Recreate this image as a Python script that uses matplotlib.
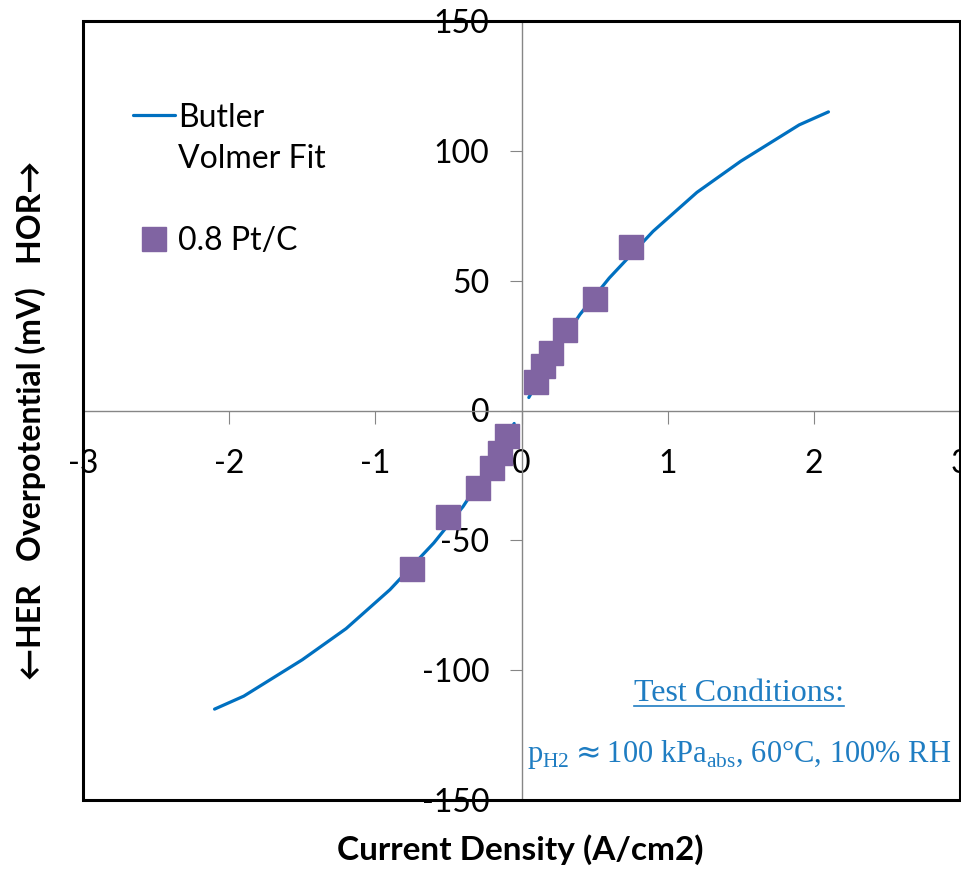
import matplotlib
matplotlib.use('Agg')
import matplotlib.pyplot as plt
from matplotlib.lines import Line2D
from matplotlib.patches import Rectangle
from matplotlib.legend_handler import HandlerLine2D

# Butler-Volmer fit (two branches, HER and HOR)
fit_x_neg = [-2.1, -2.0, -1.9, -1.8, -1.7, -1.6, -1.5, -1.4, -1.3, -1.2, -1.1, -1.0,
             -0.9, -0.8, -0.7, -0.6, -0.5, -0.4, -0.3, -0.2, -0.1, -0.05]
fit_y_neg = [-115, -112.5, -110, -106.5, -103, -99.5, -96, -92, -88, -84, -79, -74,
             -69, -63, -57, -51, -44, -37, -28.5, -19.5, -10, -5]
fit_x_pos = [0.05, 0.1, 0.2, 0.3, 0.4, 0.5, 0.6, 0.7, 0.8, 0.9, 1.0, 1.1,
             1.2, 1.3, 1.4, 1.5, 1.6, 1.7, 1.8, 1.9, 2.0, 2.1]
fit_y_pos = [5, 10, 19.5, 28.5, 37, 44, 51, 57, 63, 69, 74, 79,
             84, 88, 92, 96, 99.5, 103, 106.5, 110, 112.5, 115]

# measured points, 0.8 Pt/C
meas_x = [-0.75, -0.5, -0.3, -0.2, -0.15, -0.1, 0.1, 0.15, 0.2, 0.3, 0.5, 0.75]
meas_y = [-61, -41, -30, -22, -16.5, -10, 11, 17, 22, 31, 43, 63]

x_ticks = [-3, -2, -1, 0, 1, 2, 3]
y_ticks = [-150, -100, -50, 0, 50, 100, 150]

LINE_COLOR = '#0070C0'
MARK_COLOR = '#8064A2'
AXIS_GRAY = '#868686'
NOTE_COLOR = '#1F7DC2'
FONT = ['Lato', 'DejaVu Sans']
SERIF = ['Liberation Serif', 'DejaVu Serif']

plt.rcParams['font.family'] = FONT


class RaisedLine(HandlerLine2D):
    """Legend line handle lifted up to sit on the first text line."""
    def __init__(self, dy, **kw):
        super().__init__(**kw)
        self.dy = dy

    def create_artists(self, legend, orig_handle, xdescent, ydescent, width,
                       height, fontsize, trans):
        arts = super().create_artists(legend, orig_handle, xdescent, ydescent,
                                      width, height, fontsize, trans)
        for a in arts:
            a.set_ydata([v + self.dy for v in a.get_ydata()])
        return arts


fig = plt.figure(figsize=(9.61, 8.69), dpi=100)
ax = fig.add_axes([83 / 961, 1 - 800 / 869, 877 / 961, 779 / 869])

fit_line, = ax.plot(fit_x_neg, fit_y_neg, color=LINE_COLOR, lw=2.3,
                    solid_capstyle='round', solid_joinstyle='round', zorder=3)
ax.plot(fit_x_pos, fit_y_pos, color=LINE_COLOR, lw=2.3,
        solid_capstyle='round', solid_joinstyle='round', zorder=3)
pts, = ax.plot(meas_x, meas_y, ls='none', marker='s', ms=17, color=MARK_COLOR,
               mec=MARK_COLOR, zorder=4)

ax.set_xlim(-3, 3)
ax.set_ylim(-150, 150)
ax.set_xticks(x_ticks)
ax.set_yticks(y_ticks)
ax.set_xticklabels([str(t) for t in x_ticks])
ax.set_yticklabels([str(t) for t in y_ticks])

# axes crossing at the origin
for side in ('left', 'bottom'):
    ax.spines[side].set_position(('data', 0))
    ax.spines[side].set_color(AXIS_GRAY)
    ax.spines[side].set_linewidth(1.0)
for side in ('top', 'right'):
    ax.spines[side].set_visible(False)
ax.tick_params(axis='x', direction='out', length=9, width=0.8, color=AXIS_GRAY,
               labelsize=23, pad=19)
ax.tick_params(axis='y', direction='out', length=9, width=0.8, color=AXIS_GRAY,
               labelsize=23, pad=14)

# outer frame
ax.add_patch(Rectangle((0, 0), 1, 1, transform=ax.transAxes, fill=False,
                       edgecolor='black', lw=2.2, clip_on=False, zorder=5))

leg = ax.legend([fit_line, pts], ['Butler\nVolmer Fit', '0.8 Pt/C'],
                handler_map={fit_line: RaisedLine(17.5)},
                loc='upper left', bbox_to_anchor=(0.057, 0.895), frameon=False,
                fontsize=23, handlelength=1.3, handletextpad=0.1, labelspacing=1.65,
                borderaxespad=0, borderpad=0)
for t in leg.get_texts():
    t.set_linespacing(1.45)

fig.text(520 / 961, 1 - 850 / 869, 'Current Density (A/cm2)', ha='center', va='center',
         fontsize=24, fontweight='bold')
fig.text(31 / 961, 1 - 420 / 869,
         '\u2190HER   Overpotential (mV)   HOR\u2192',
         ha='center', va='center', rotation=90, fontsize=23, fontweight='bold')

t1 = ax.text(0.748, 0.137, 'Test Conditions:', transform=ax.transAxes, ha='center',
             va='center', fontsize=23, color=NOTE_COLOR, family=SERIF)
ax.text(0.748, 0.058,
        r'p$_\mathregular{H2}$$\approx$100 kPa$_\mathregular{abs}$, 60°C, 100% RH',
        transform=ax.transAxes, ha='center', va='center', fontsize=22,
        color=NOTE_COLOR, family=SERIF)

# underline the heading
fig.canvas.draw()
bb = t1.get_window_extent()
inv = fig.transFigure.inverted()
(x0, y0), (x1, _) = inv.transform([(bb.x0, bb.y0), (bb.x1, bb.y0)])
fig.add_artist(Line2D([x0, x1], [y0 + 0.002, y0 + 0.002], transform=fig.transFigure,
                      color=NOTE_COLOR, lw=1.2))

fig.savefig('out.png', dpi=100, facecolor='white')
